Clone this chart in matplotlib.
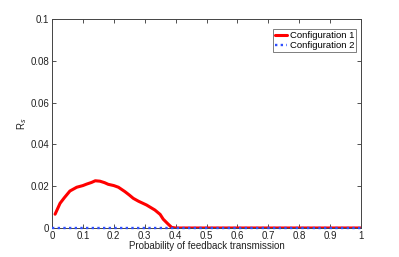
import matplotlib
matplotlib.use("Agg")
import matplotlib.pyplot as plt

plt.rcParams['font.family'] = ['Liberation Sans', 'DejaVu Sans']

# probability of feedback transmission
p_conf1 = [0.01, 0.026, 0.04, 0.058, 0.08, 0.1, 0.112, 0.128, 0.14, 0.155, 0.17, 0.182,
           0.2, 0.215, 0.236, 0.25, 0.263, 0.28, 0.306, 0.333, 0.35, 0.36, 0.375, 0.387,
           0.4, 0.5, 0.6, 0.7, 0.8, 0.9, 1.0]
rs_conf1 = [0.0066, 0.0118, 0.0145, 0.0177, 0.0195, 0.0203, 0.021, 0.0218, 0.0226, 0.0224, 0.0217, 0.0209,
            0.0203, 0.0195, 0.0174, 0.0158, 0.0142, 0.0128, 0.011, 0.0086, 0.0065, 0.0042, 0.002, 0.0003,
            0.0, 0.0, 0.0, 0.0, 0.0, 0.0, 0.0]
p_conf2 = [0.0, 0.2, 0.4, 0.6, 0.8, 1.0]
rs_conf2 = [0.0, 0.0, 0.0, 0.0, 0.0, 0.0]

xticks = [0, 0.1, 0.2, 0.3, 0.4, 0.5, 0.6, 0.7, 0.8, 0.9, 1]
xticklabels = ["0", "0.1", "0.2", "0.3", "0.4", "0.5", "0.6", "0.7", "0.8", "0.9", "1"]
yticks = [0, 0.02, 0.04, 0.06, 0.08, 0.1]
yticklabels = ["0", "0.02", "0.04", "0.06", "0.08", "0.1"]

fig = plt.figure(figsize=(3.99, 2.57), dpi=100)
ax = fig.add_axes([52 / 399, 1 - 228 / 257, 309 / 399, 209 / 257])

ax.plot(p_conf1, rs_conf1, color="red", lw=2.2, label="Configuration 1", solid_capstyle="round",
        zorder=2)
ax.plot(p_conf2, rs_conf2, color="#2f4fff", lw=1.7, ls=(0, (1, 1.4)), label="Configuration 2",
        clip_on=False, zorder=4)

ax.set_xlim(0, 1)
ax.set_ylim(0, 0.1)
ax.set_xticks(xticks)
ax.set_xticklabels(xticklabels)
ax.set_yticks(yticks)
ax.set_yticklabels(yticklabels)
ax.tick_params(direction="in", top=True, right=True, labelsize=7, length=3, width=0.6, pad=2,
               colors="#333333", labelcolor="#222222")
for s in ax.spines.values():
    s.set_linewidth(0.7)
    s.set_color("#444444")

ax.set_xlabel("Probability of feedback transmission", fontsize=7, labelpad=0, color="#222222")
ax.set_ylabel("R$_s$", fontsize=7, labelpad=1, color="#222222")

leg = ax.legend(loc="upper right", bbox_to_anchor=(0.984, 0.952), borderaxespad=0,
                fontsize=6.8, frameon=True, fancybox=False, handlelength=1.3,
                handletextpad=0.3, borderpad=0.2, labelspacing=0.15)
leg.get_frame().set_edgecolor("#444444")
leg.get_frame().set_linewidth(0.6)

fig.savefig("out.png", dpi=100)
